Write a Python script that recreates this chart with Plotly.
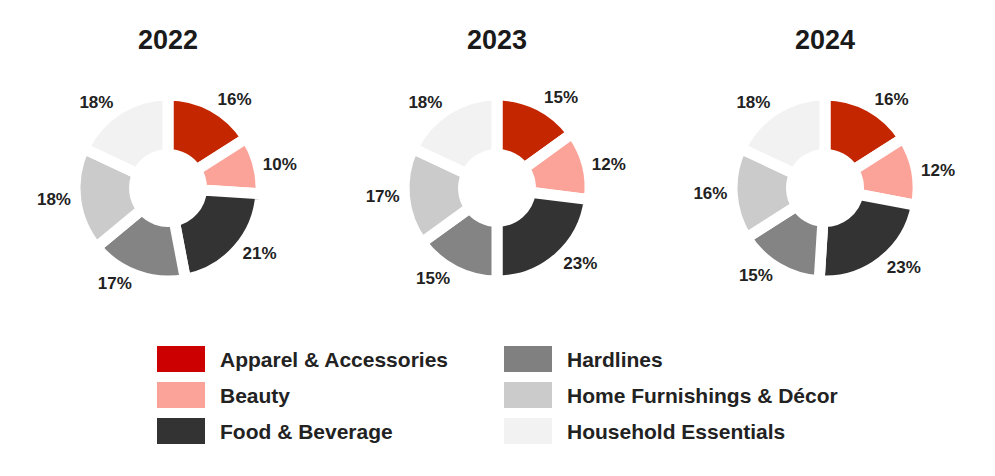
import plotly.graph_objects as go

categories = ["Apparel & Accessories", "Beauty", "Food & Beverage",
              "Hardlines", "Home Furnishings & Décor", "Household Essentials"]
years = ["2022", "2023", "2024"]
values_2022 = [16, 10, 21, 17, 18, 18]
values_2023 = [15, 12, 23, 15, 17, 18]
values_2024 = [16, 12, 23, 15, 16, 18]

slice_colors = ["#C42600", "#FBA398", "#333333", "#848484", "#CBCBCB", "#F2F2F2"]
legend_colors = ["#CC0000", "#FBA398", "#333333", "#808080", "#CBCBCB", "#F2F2F2"]

# page body has an 8px margin; figure fills the remaining window
OFF = 8
W, H = 995 - 2 * OFF, 476 - 2 * OFF
FONT = "Liberation Sans, Arial, sans-serif"
TXT = "#222222"


def px(x):
    return (x - OFF) / W


def py(y):
    return 1 - (y - OFF) / H


fig = go.Figure()

centers_px = [168, 497, 825]
cy_px = 188
r_px = 93
series = [values_2022, values_2023, values_2024]

for cx, vals, yr in zip(centers_px, series, years):
    fig.add_trace(go.Pie(
        labels=categories, values=vals, sort=False, direction="clockwise",
        rotation=0, hole=0.36,
        marker=dict(colors=slice_colors, line=dict(color="white", width=11)),
        textposition="outside", texttemplate="<b>%{value}%</b>",
        textfont=dict(family=FONT, size=17, color=TXT),
        domain=dict(x=[px(cx - r_px), px(cx + r_px)],
                    y=[py(cy_px + r_px), py(cy_px - r_px)]),
        showlegend=False, hoverinfo="label+percent",
    ))
    fig.add_annotation(x=px(cx), y=py(40), xref="paper", yref="paper",
                       text=f"<b>{yr}</b>", showarrow=False,
                       font=dict(family=FONT, size=27, color="#1A1A1A"),
                       xanchor="center", yanchor="middle")

# custom two-column legend
col_x = [157, 504]
row_y = [346, 382, 418]
sw, sh = 48, 26
for i, (cat, col) in enumerate(zip(categories, legend_colors)):
    c, r = divmod(i, 3)
    x0 = col_x[c]
    y0 = row_y[r]
    fig.add_shape(type="rect", xref="paper", yref="paper",
                  x0=px(x0), x1=px(x0 + sw),
                  y0=py(y0 + sh), y1=py(y0),
                  fillcolor=col, line=dict(width=0))
    fig.add_annotation(x=px(x0 + sw + 13), y=py(y0 + sh / 2),
                       xref="paper", yref="paper", text=f"<b>{cat}</b>",
                       showarrow=False, xanchor="left", yanchor="middle",
                       font=dict(family=FONT, size=21, color=TXT))

fig.update_layout(width=W, height=H, margin=dict(l=0, r=0, t=0, b=0),
                  paper_bgcolor="white", plot_bgcolor="white")
fig.write_html("out.html")
